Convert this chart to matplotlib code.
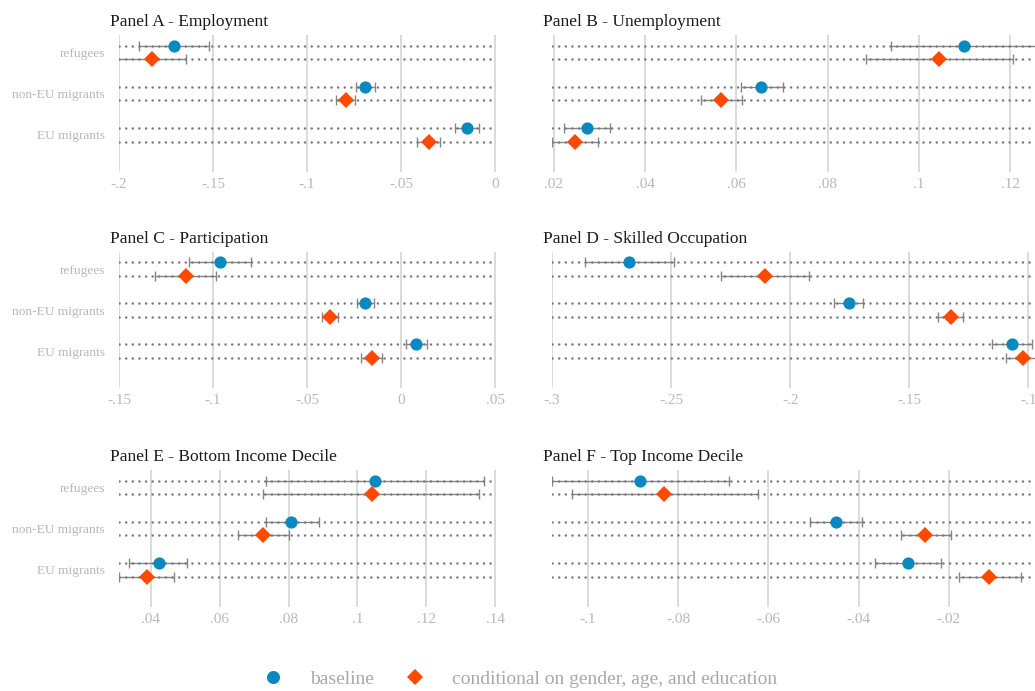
import matplotlib.pyplot as plt
from matplotlib.lines import Line2D

plt.rcParams['font.family'] = ['Liberation Serif', 'DejaVu Serif']

groups = ["refugees", "non-EU migrants", "EU migrants"]

# order inside each list: refugees, non-EU migrants, EU migrants
# Panel A - Employment
a_base = [-0.1708, -0.0690, -0.0147]
a_base_lo = [-0.1894, -0.0739, -0.0214]
a_base_hi = [-0.1523, -0.0637, -0.0083]
a_cond = [-0.1823, -0.0792, -0.0350]
a_cond_lo = [-0.2010, -0.0845, -0.0414]
a_cond_hi = [-0.1646, -0.0743, -0.0292]

# Panel B - Unemployment
b_base = [0.1099, 0.0653, 0.0272]
b_base_lo = [0.0938, 0.0609, 0.0223]
b_base_hi = [0.1262, 0.0701, 0.0323]
b_cond = [0.1044, 0.0566, 0.0246]
b_cond_lo = [0.0883, 0.0522, 0.0196]
b_cond_hi = [0.1206, 0.0613, 0.0296]

# Panel C - Participation
c_base = [-0.0964, -0.0190, 0.0079]
c_base_lo = [-0.1130, -0.0236, 0.0024]
c_base_hi = [-0.0796, -0.0142, 0.0136]
c_cond = [-0.1145, -0.0380, -0.0156]
c_cond_lo = [-0.1307, -0.0423, -0.0211]
c_cond_hi = [-0.0985, -0.0337, -0.0103]

# Panel D - Skilled Occupation
d_base = [-0.2675, -0.1755, -0.1067]
d_base_lo = [-0.2861, -0.1815, -0.1151]
d_base_hi = [-0.2489, -0.1693, -0.0983]
d_cond = [-0.2106, -0.1326, -0.1021]
d_cond_lo = [-0.2290, -0.1378, -0.1095]
d_cond_hi = [-0.1920, -0.1274, -0.0947]

# Panel E - Bottom Income Decile
e_base = [0.1051, 0.0808, 0.0424]
e_base_lo = [0.0736, 0.0736, 0.0338]
e_base_hi = [0.1367, 0.0887, 0.0506]
e_cond = [0.1041, 0.0726, 0.0388]
e_cond_lo = [0.0727, 0.0652, 0.0308]
e_cond_hi = [0.1352, 0.0801, 0.0467]

# Panel F - Top Income Decile
f_base = [-0.0885, -0.0450, -0.0291]
f_base_lo = [-0.1080, -0.0507, -0.0363]
f_base_hi = [-0.0688, -0.0393, -0.0218]
f_cond = [-0.0832, -0.0252, -0.0110]
f_cond_lo = [-0.1036, -0.0306, -0.0178]
f_cond_hi = [-0.0624, -0.0195, -0.0041]

panels = [
    ("Panel A - Employment", a_base, a_base_lo, a_base_hi, a_cond, a_cond_lo, a_cond_hi,
     [-0.2, -0.15, -0.1, -0.05, 0], ["-.2", "-.15", "-.1", "-.05", "0"], (-0.2, 0.0005)),
    ("Panel B - Unemployment", b_base, b_base_lo, b_base_hi, b_cond, b_cond_lo, b_cond_hi,
     [0.02, 0.04, 0.06, 0.08, 0.1, 0.12], [".02", ".04", ".06", ".08", ".1", ".12"], (0.0196, 0.1254)),
    ("Panel C - Participation", c_base, c_base_lo, c_base_hi, c_cond, c_cond_lo, c_cond_hi,
     [-0.15, -0.1, -0.05, 0, 0.05], ["-.15", "-.1", "-.05", "0", ".05"], (-0.15, 0.0505)),
    ("Panel D - Skilled Occupation", d_base, d_base_lo, d_base_hi, d_cond, d_cond_lo, d_cond_hi,
     [-0.3, -0.25, -0.2, -0.15, -0.1], ["-.3", "-.25", "-.2", "-.15", "-.1"], (-0.3, -0.0972)),
    ("Panel E - Bottom Income Decile", e_base, e_base_lo, e_base_hi, e_cond, e_cond_lo, e_cond_hi,
     [0.04, 0.06, 0.08, 0.1, 0.12, 0.14], [".04", ".06", ".08", ".1", ".12", ".14"], (0.0308, 0.1402)),
    ("Panel F - Top Income Decile", f_base, f_base_lo, f_base_hi, f_cond, f_cond_lo, f_cond_hi,
     [-0.1, -0.08, -0.06, -0.04, -0.02], ["-.1", "-.08", "-.06", "-.04", "-.02"], (-0.108, -0.0009)),
]

blue = "#0a89c0"
orange = "#ff4800"
gray_txt = "#b8b8b8"
W, H = 1035, 691

fig = plt.figure(figsize=(W / 100, H / 100), dpi=100)

# axes boxes in pixels: (left, right, top, bottom)
cols = [(119, 496), (552, 1035)]
rows = [(35, 172), (252, 388), (470, 607)]

centers = [3, 2, 1]
off = 0.165

for i, (title, be, blo, bhi, ce, clo, chi, ticks, tlabels, xlim) in enumerate(panels):
    l, r = cols[i % 2]
    t, b = rows[i // 2]
    ax = fig.add_axes([l / W, 1 - b / H, (r - l) / W, (b - t) / H])

    for x in ticks:
        ax.axvline(x, color="#d4d4d4", lw=1.2, zorder=0)

    yb = [c + off for c in centers]
    yc = [c - off for c in centers]

    ax.errorbar(be, yb, xerr=[[v - lo for v, lo in zip(be, blo)], [hi - v for v, hi in zip(be, bhi)]],
                fmt="none", ecolor="#858585", elinewidth=1.0, capsize=3.6, capthick=1.0, zorder=1)
    ax.errorbar(ce, yc, xerr=[[v - lo for v, lo in zip(ce, clo)], [hi - v for v, hi in zip(ce, chi)]],
                fmt="none", ecolor="#858585", elinewidth=1.0, capsize=3.6, capthick=1.0, zorder=1)

    for y in yb + yc:
        ax.axhline(y, color="#7a7a7a", lw=1.8, ls=(0, (0.05, 2.6)),
                   dash_capstyle="round", zorder=2)

    ax.plot(be, yb, "o", color=blue, ms=8.8, mew=0, zorder=3, clip_on=False)
    ax.plot(ce, yc, "D", color=orange, ms=8.0, mew=0, zorder=3, clip_on=False)

    ax.set_xlim(*xlim)
    ax.set_ylim(0.1, 3.42)
    ax.set_xticks(ticks)
    ax.set_xticklabels(tlabels)
    ax.set_yticks(centers)
    if i % 2 == 0:
        ax.set_yticklabels(groups)
    else:
        ax.set_yticklabels([])
    ax.tick_params(axis="both", length=0, colors=gray_txt)
    ax.tick_params(axis="x", pad=4.5, labelsize=11)
    ax.tick_params(axis="y", pad=10, labelsize=9.6)
    for s in ax.spines.values():
        s.set_visible(False)
    ax.patch.set_alpha(0)

    ax.annotate(title, xy=(0, 1), xycoords="axes fraction", xytext=(-6.5, 6.5),
                textcoords="offset points", ha="left", va="baseline",
                fontsize=12.5, color="#1a1a1a")

handles = [
    Line2D([], [], marker="o", ls="none", color=blue, ms=9.4, mew=0),
    Line2D([], [], marker="D", ls="none", color=orange, ms=8.6, mew=0),
]
fig.legend(handles, ["baseline", "conditional on gender, age, and education"],
           loc="center", bbox_to_anchor=(0.498, 1 - 679 / H), ncol=2, frameon=False,
           fontsize=14, labelcolor="#a8a8a8", handletextpad=0.9, columnspacing=1.1)

fig.savefig("out.png", dpi=100)
